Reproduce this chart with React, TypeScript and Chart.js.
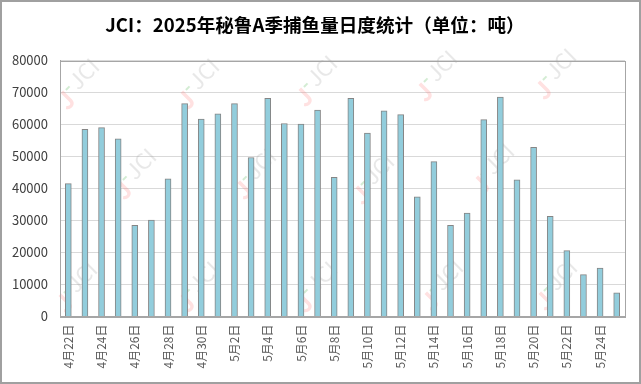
import React, { useEffect, useRef } from "react";
import { Chart, registerables } from "chart.js";

Chart.register(...registerables);

const TITLE = "JCI：2025年秘鲁A季捕鱼量日度统计（单位：吨）";

const categories: string[] = [
  "4月22日", "4月23日", "4月24日", "4月25日", "4月26日", "4月27日", "4月28日", "4月29日", "4月30日",
  "5月1日", "5月2日", "5月3日", "5月4日", "5月5日", "5月6日", "5月7日", "5月8日", "5月9日",
  "5月10日", "5月11日", "5月12日", "5月13日", "5月14日", "5月15日", "5月16日", "5月17日",
  "5月18日", "5月19日", "5月20日", "5月21日", "5月22日", "5月23日", "5月24日", "5月25日",
];

const catchTons: number[] = [
  41500, 58500, 59000, 55500, 28500, 30100, 43000, 66500, 61700,
  63300, 66500, 49700, 68200, 60300, 60100, 64500, 43500, 68200,
  57300, 64300, 63100, 37400, 48400, 28500, 32300, 61500,
  68600, 42700, 52900, 31300, 20600, 13100, 15100, 7400,
];

const yTicks: number[] = [0, 10000, 20000, 30000, 40000, 50000, 60000, 70000, 80000];

const FONT = "'Noto Sans CJK SC', 'Noto Sans', sans-serif";

const WATERMARKS: [number, number][] = [
  [78, 85], [198, 85], [316, 82], [436, 77], [555, 75],
  [135, 175], [255, 175], [373, 180], [493, 170],
  [76, 288], [198, 288], [316, 288], [442, 286], [556, 286],
];

export default function App() {
  const ref = useRef<HTMLCanvasElement | null>(null);

  useEffect(() => {
    document.body.style.margin = "0";
    const canvas = ref.current;
    if (!canvas) return;

    const framePlugin = {
      id: "frame",
      beforeDraw(chart: any) {
        const ctx = chart.ctx;
        ctx.save();
        ctx.fillStyle = "#ffffff";
        ctx.fillRect(0, 0, chart.width, chart.height);
        ctx.restore();
      },
      beforeDatasetsDraw(chart: any) {
        const ctx = chart.ctx;
        ctx.save();
        for (const [cx, cy] of WATERMARKS) {
          ctx.save();
          ctx.translate(cx, cy);
          ctx.rotate(-Math.PI / 4);
          ctx.textBaseline = "middle";
          ctx.font = `bold 24px ${FONT}`;
          ctx.fillStyle = "rgba(255,120,120,0.22)";
          ctx.fillText("J", -26, 2);
          ctx.fillStyle = "rgba(80,180,80,0.25)";
          ctx.fillRect(-12, -6, 5, 2);
          ctx.font = `22px ${FONT}`;
          ctx.fillStyle = "rgba(150,150,150,0.22)";
          ctx.fillText("JCI", -4, -4);
          ctx.restore();
        }
        ctx.restore();
      },
      afterDraw(chart: any) {
        const ctx = chart.ctx;
        const a = chart.chartArea;
        ctx.save();
        ctx.strokeStyle = "#a6a6a6";
        ctx.lineWidth = 1;
        ctx.strokeRect(Math.round(a.left) + 0.5, Math.round(a.top) + 0.5, Math.round(a.right - a.left), Math.round(a.bottom - a.top));
        ctx.strokeStyle = "#a0a0a0";
        ctx.lineWidth = 2;
        ctx.strokeRect(1, 1, chart.width - 2, chart.height - 2);
        ctx.fillStyle = "#000000";
        ctx.font = `bold 18.6px ${FONT}`;
        ctx.textAlign = "center";
        ctx.textBaseline = "middle";
        ctx.fillText(TITLE, 315, 25);
        ctx.restore();
      },
    };

    const chart = new Chart(canvas, {
      type: "bar",
      data: {
        labels: categories,
        datasets: [
          {
            data: catchTons,
            backgroundColor: "#92cddc",
            borderColor: "#858585",
            borderWidth: 1,
            barThickness: 6,
            categoryPercentage: 1,
          },
        ],
      },
      options: {
        animation: false,
        responsive: false,
        maintainAspectRatio: false,
        devicePixelRatio: 1,
        layout: { padding: { left: 0, right: 16, top: 60.5, bottom: 0 } },
        plugins: {
          legend: { display: false },
          tooltip: { enabled: false },
          title: { display: false },
        },
        scales: {
          x: {
            grid: { display: false, drawTicks: false },
            border: { display: true, color: "#a6a6a6" },
            ticks: {
              autoSkip: false,
              maxRotation: 90,
              minRotation: 90,
              padding: 8,
              color: "#595959",
              font: { family: FONT, size: 12 },
              callback: (_v: any, i: number) => (i % 2 === 0 ? categories[i] : ""),
            },
            afterFit: (s: any) => {
              s.height = 67.5;
            },
          },
          y: {
            min: 0,
            max: 80000,
            afterBuildTicks: (s: any) => {
              s.ticks = yTicks.map((v) => ({ value: v }));
            },
            grid: { color: "#d9d9d9", drawTicks: false },
            border: { display: true, color: "#a6a6a6" },
            ticks: {
              padding: 12,
              color: "#404040",
              font: { family: FONT, size: 13 },
              callback: (v: any) => String(v),
            },
            afterFit: (s: any) => {
              s.width = 60;
            },
          },
        },
      },
      plugins: [framePlugin],
    });

    return () => chart.destroy();
  }, []);

  return <canvas ref={ref} width={641} height={384} style={{ display: "block" }} />;
}
